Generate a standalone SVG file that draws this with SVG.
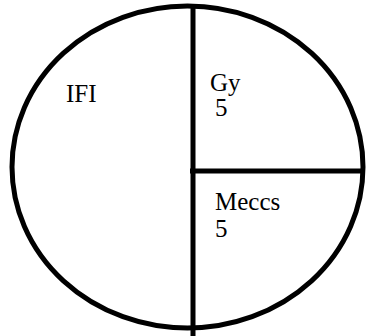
<svg xmlns="http://www.w3.org/2000/svg" width="367" height="336" viewBox="0 0 367 336">
<style>
.ln{stroke:#000;stroke-width:5;fill:none}
.t{font-family:"Liberation Serif","Times New Roman",serif;font-size:25px;fill:#000}
</style>
<rect width="367" height="336" fill="#fff"/>
<g id="connectors">
<ellipse class="ln" cx="187.5" cy="167" rx="175.5" ry="161"/>
<line class="ln" x1="193" y1="6" x2="193" y2="336"/>
<line class="ln" x1="190" y1="171" x2="363" y2="171"/>
</g>
<g id="ifi"><text class="t" x="66" y="102">IFI</text></g>
<g id="gy"><text class="t"><tspan x="210" y="91">Gy</tspan><tspan x="215" y="116">5</tspan></text></g>
<g id="meccs"><text class="t"><tspan x="215" y="210">Meccs</tspan><tspan x="215" y="237">5</tspan></text></g>
</svg>
